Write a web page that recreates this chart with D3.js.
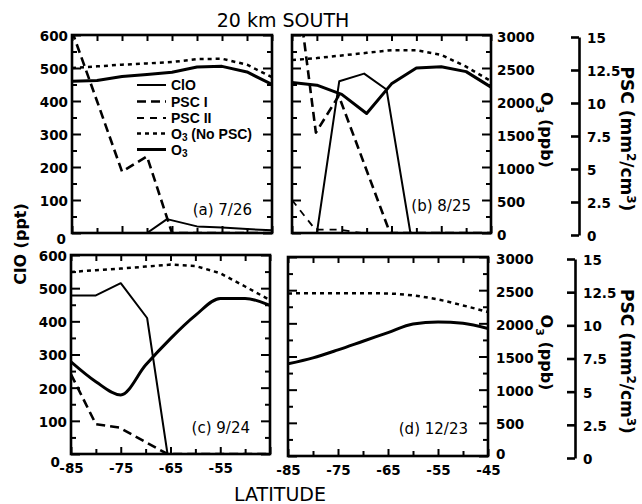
<!DOCTYPE html>
<html>
<head>
<meta charset="utf-8">
<script src="https://cdn.jsdelivr.net/npm/d3@7/dist/d3.min.js"></script>
<style>
  body { margin: 0; background: #fff; }
  svg { display: block; }
  .tk text { font-family: "DejaVu Sans", sans-serif; font-weight: bold; font-size: 13.5px; fill: #000; }
  .tk line, .tk path { stroke: #000; stroke-width: 2; }
</style>
</head>
<body>
<svg id="chart" width="642" height="504"></svg>
<script>
/*
  20 km SOUTH: ClO, PSC and O3 against latitude, four dates
*/

// shared latitude grid (deg)
var lats = [-85, -80, -75, -70, -65, -60, -55, -50, -45];
var latMajor = [-85, -75, -65, -55, -45];
var latMinor = [-80, -70, -60, -50];
var cloMajor = [0, 100, 200, 300, 400, 500, 600];
var cloMinor = [50, 150, 250, 350, 450, 550];
var o3Major = [0, 500, 1000, 1500, 2000, 2500, 3000];
var o3Minor = [250, 750, 1250, 1750, 2250, 2750];
var pscTicks = [0, 2.5, 5, 7.5, 10, 12.5, 15];

// (a) 7/26
var o3NoPscA = [2500, 2525, 2550, 2570, 2590, 2635, 2640, 2550, 2360];
var o3A      = [2300, 2310, 2370, 2400, 2435, 2515, 2525, 2440, 2250];
var pscIA    = [15.3, 10, 4.65, 5.8, 0, 0, 0, 0, 0];
var cloLatA  = [-85, -70, -66, -60, -55, -50, -45];
var cloA     = [0, 0, 42, 20, 17, 12, 8];

// (b) 8/25
var o3NoPscB = [2620, 2650, 2690, 2730, 2770, 2770, 2700, 2520, 2300];
var o3B      = [2280, 2240, 2100, 1810, 2260, 2500, 2520, 2445, 2210];
var pscILatB = [-85, -80.2, -75.6, -65.3, -45];
var pscIB    = [21.8, 7.6, 10.4, 0, 0];
var pscIILatB = [-85, -80.3, -75.4, -71, -45];
var pscIIB   = [2.5, 0.25, 0.25, 0, 0];
var cloLatB  = [-85, -80, -75.5, -70.5, -66, -61.2, -45];
var cloB     = [0, 0, 460, 483, 435, 0, 0];

// (c) 9/24
var o3NoPscC = [2745, 2770, 2795, 2825, 2855, 2835, 2725, 2525, 2320];
var o3C      = [1390, 1090, 890, 1340, 1740, 2090, 2345, 2345, 2240];
var pscILatC = [-85, -80, -75.3, -70, -65.6, -45];
var pscIC    = [6.0, 2.25, 2.0, 0.9, 0, 0];
var cloLatC  = [-85, -80, -75, -69.7, -65.6, -45];
var cloC     = [478, 478, 515, 410, 0, 0];

// (d) 12/23
var o3NoPscD = [2450, 2455, 2455, 2455, 2450, 2420, 2360, 2270, 2170];
var o3D      = [1390, 1480, 1600, 1730, 1860, 1990, 2020, 2000, 1920];

var styles = {
  clo:    {w: 2,   dash: null},
  pscI:   {w: 2.6, dash: "9,5"},
  pscII:  {w: 1.8, dash: "7,6"},
  o3np:   {w: 2.5, dash: "4,4"},
  o3:     {w: 3,   dash: null}
};

var panels = [
  {id: "a", x0: 72, x1: 272, y0: 35, y1: 233, left: true, right: false, bottom: false,
   label: "(a) 7/26", ly: 215,
   series: [
     {k: "o3np", unit: "o3", x: lats, y: o3NoPscA},
     {k: "o3", unit: "o3", x: lats, y: o3A},
     {k: "pscI", unit: "psc", x: lats, y: pscIA},
     {k: "clo", unit: "clo", x: cloLatA, y: cloA}
   ]},
  {id: "b", x0: 292, x1: 491, y0: 35, y1: 233, left: false, right: true, bottom: false,
   label: "(b) 8/25", ly: 211, psc: {x: 579, y0: 37, y1: 235},
   series: [
     {k: "o3np", unit: "o3", x: lats, y: o3NoPscB},
     {k: "o3", unit: "o3", x: lats, y: o3B},
     {k: "pscI", unit: "psc", x: pscILatB, y: pscIB},
     {k: "pscII", unit: "psc", x: pscIILatB, y: pscIIB},
     {k: "clo", unit: "clo", x: cloLatB, y: cloB}
   ]},
  {id: "c", x0: 71, x1: 270, y0: 255, y1: 454, left: true, right: false, bottom: true,
   xLabels: [-85, -75, -65, -55],
   label: "(c) 9/24", ly: 433,
   series: [
     {k: "o3np", unit: "o3", x: lats, y: o3NoPscC},
     {k: "o3", unit: "o3", x: lats, y: o3C, smooth: true},
     {k: "pscI", unit: "psc", x: pscILatC, y: pscIC},
     {k: "clo", unit: "clo", x: cloLatC, y: cloC}
   ]},
  {id: "d", x0: 288, x1: 488, y0: 257, y1: 456, left: false, right: true, bottom: true,
   xLabels: [-85, -75, -65, -55, -45],
   label: "(d) 12/23", ly: 434, psc: {x: 575, y0: 259, y1: 458},
   series: [
     {k: "o3np", unit: "o3", x: lats, y: o3NoPscD, smooth: true},
     {k: "o3", unit: "o3", x: lats, y: o3D, smooth: true}
   ]}
];

var svg = d3.select("#chart");
var defs = svg.append("defs");

panels.forEach(function(p){
  var x = d3.scaleLinear().domain([-85, -45]).range([p.x0, p.x1]);
  var y = {
    clo: d3.scaleLinear().domain([0, 600]).range([p.y1, p.y0]),
    o3:  d3.scaleLinear().domain([0, 3000]).range([p.y1, p.y0]),
    psc: d3.scaleLinear().domain([0, 15]).range([p.y1, p.y0])
  };

  defs.append("clipPath").attr("id", "clip-" + p.id)
    .append("rect")
      .attr("x", p.x0).attr("y", p.y0)
      .attr("width", p.x1 - p.x0).attr("height", p.y1 - p.y0);

  var g = svg.append("g");
  var lineG = g.append("g").attr("clip-path", "url(#clip-" + p.id + ")");

  p.series.forEach(function(s){
    var st = styles[s.k];
    var pts = s.x.map(function(v, i){ return [v, s.y[i]]; });
    var line = d3.line()
      .x(function(d){ return x(d[0]); })
      .y(function(d){ return y[s.unit](d[1]); })
      .curve(s.smooth ? d3.curveMonotoneX : d3.curveLinear);
    lineG.append("path")
      .datum(pts)
      .attr("d", line)
      .style("fill", "none")
      .style("stroke", "#000")
      .style("stroke-width", st.w)
      .style("stroke-dasharray", st.dash)
      .style("stroke-linejoin", "round");
  });

  // inward ticks on all four sides
  function ax(axis, tx, ty){
    var a = g.append("g").attr("class", "tk")
      .attr("transform", "translate(" + tx + "," + ty + ")")
      .call(axis);
    a.select(".domain").remove();
    return a;
  }

  var left = ax(d3.axisLeft(y.clo).tickValues(cloMajor).tickSize(-9).tickPadding(4)
    .tickFormat(p.left ? d3.format("d") : ""), p.x0, 0);
  ax(d3.axisLeft(y.clo).tickValues(cloMinor).tickSize(-5).tickFormat(""), p.x0, 0);
  if(p.left){
    left.selectAll(".tick text").attr("dy", function(d){ return d === 0 ? "0.75em" : "0.4em"; })
      .attr("x", function(d){ return d === 0 && p.bottom ? -11 : (d === 0 ? -6 : -4); })
      .attr("y", function(d){ return d === 0 && p.bottom ? 2 : 0; });
  }

  var right = ax(d3.axisRight(y.o3).tickValues(o3Major).tickSize(-9).tickPadding(p.bottom ? 8 : 6)
    .tickFormat(p.right ? d3.format("d") : ""), p.x1, 0);
  ax(d3.axisRight(y.o3).tickValues(o3Minor).tickSize(-5).tickFormat(""), p.x1, 0);
  if(p.right){
    right.selectAll(".tick text").attr("dy", "0.45em")
      .attr("y", function(d){ return d === 0 && p.bottom ? -4 : 0; });
  }

  ax(d3.axisTop(x).tickValues(latMajor.concat(latMinor)).tickSize(-6).tickFormat(""), 0, p.y0);
  ax(d3.axisBottom(x).tickValues(latMajor).tickSize(-7).tickPadding(9)
    .tickFormat(function(d){ return p.bottom && p.xLabels.indexOf(d) >= 0 ? d : ""; }), 0, p.y1);
  ax(d3.axisBottom(x).tickValues(latMinor).tickSize(-5).tickFormat(""), 0, p.y1);

  g.append("rect")
    .attr("x", p.x0).attr("y", p.y0)
    .attr("width", p.x1 - p.x0).attr("height", p.y1 - p.y0)
    .style("fill", "none").style("stroke", "#000").style("stroke-width", 2.6);

  g.append("text")
    .attr("x", p.x1 - 20).attr("y", p.ly)
    .attr("text-anchor", "end")
    .style("font-family", "DejaVu Sans, sans-serif")
    .style("font-size", "15px")
    .text(p.label);

  // separate PSC scale to the right of the right-hand panels
  if(p.psc){
    var yp = d3.scaleLinear().domain([0, 15]).range([p.psc.y1, p.psc.y0]);
    var pa = g.append("g").attr("class", "tk")
      .attr("transform", "translate(" + p.psc.x + ",0)")
      .call(d3.axisRight(yp).tickValues(pscTicks).tickSize(-8).tickSizeOuter(0).tickPadding(8)
        .tickFormat(function(d){ return d; }));
    pa.select(".domain").style("stroke-width", 2.6);
    pa.selectAll(".tick line").style("stroke-width", 2.6);
    pa.selectAll(".tick text").attr("dy", "0.4em");

    var cy = (p.y0 + p.y1) / 2;
    var o3t = g.append("text")
      .attr("transform", "translate(541," + (cy - 4) + ") rotate(90)")
      .attr("text-anchor", "middle")
      .style("font-family", "DejaVu Sans, sans-serif")
      .style("font-weight", "bold")
      .style("font-size", "16px");
    o3t.append("tspan").text("O");
    o3t.append("tspan").attr("dy", 5).style("font-size", "11px").text("3");
    o3t.append("tspan").attr("dy", -5).text(" (ppb)");

    var pt = g.append("text")
      .attr("transform", "translate(621," + (cy + 5) + ") rotate(90)")
      .attr("text-anchor", "middle")
      .style("font-family", "DejaVu Sans, sans-serif")
      .style("font-weight", "bold")
      .style("font-size", "17px");
    pt.append("tspan").text("PSC (mm");
    pt.append("tspan").attr("dy", -6).style("font-size", "12px").text("2");
    pt.append("tspan").attr("dy", 6).text("/cm");
    pt.append("tspan").attr("dy", -6).style("font-size", "12px").text("3");
    pt.append("tspan").attr("dy", 6).text(")");
  }
});

// legend in panel (a)
var legendKeys = ["clo", "pscI", "pscII", "o3np", "o3"];
var legendNames = ["ClO", "PSC I", "PSC II", "O3 (No PSC)", "O3"];
var legendY = [85, 101.5, 118, 133.5, 149.5];

var leg = svg.append("g");
legendKeys.forEach(function(k, i){
  var st = styles[k];
  leg.append("line")
    .attr("x1", 137).attr("x2", 166)
    .attr("y1", legendY[i]).attr("y2", legendY[i])
    .style("stroke", "#000").style("stroke-width", st.w)
    .style("stroke-dasharray", st.dash);
  var t = leg.append("text")
    .attr("x", 171).attr("y", legendY[i] + 5)
    .style("font-family", "'Liberation Sans Narrow', 'Liberation Sans', Arial, sans-serif")
    .style("font-weight", "bold")
    .style("font-size", "14px");
  var name = legendNames[i];
  if(name.indexOf("O3") === 0){
    t.append("tspan").text("O");
    t.append("tspan").attr("dy", 2.5).style("font-size", "10px").text("3");
    t.append("tspan").attr("dy", -2.5).text(name.slice(2));
  } else {
    t.text(name);
  }
});

// titles
svg.append("text")
  .attr("x", 283).attr("y", 27)
  .attr("text-anchor", "middle")
  .style("font-family", "DejaVu Sans, sans-serif")
  .style("font-size", "19px")
  .text("20 km SOUTH");

svg.append("text")
  .attr("x", 280).attr("y", 501)
  .attr("text-anchor", "middle")
  .style("font-family", "DejaVu Sans, sans-serif")
  .style("font-size", "19px")
  .text("LATITUDE");

svg.append("text")
  .attr("transform", "translate(26,244) rotate(-90)")
  .attr("text-anchor", "middle")
  .style("font-family", "DejaVu Sans, sans-serif")
  .style("font-weight", "bold")
  .style("font-size", "16px")
  .text("ClO (ppt)");
</script>
</body>
</html>
